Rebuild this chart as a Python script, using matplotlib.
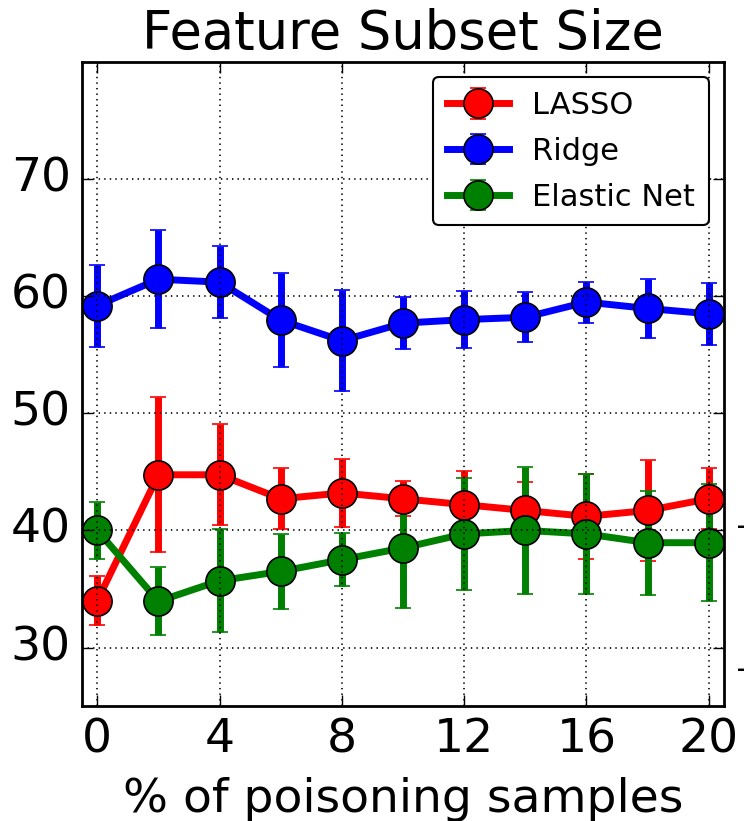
import numpy as np
import matplotlib
matplotlib.use('Agg')
import matplotlib.pyplot as plt

plt.style.use('classic')

x = [0, 2, 4, 6, 8, 10, 12, 14, 16, 18, 20]

lasso = [34.0, 44.75, 44.75, 42.7, 43.2, 42.7, 42.2, 41.7, 41.2, 41.7, 42.7]
lasso_err = [2.1, 6.6, 4.3, 2.6, 2.9, 1.5, 2.9, 2.4, 3.6, 4.35, 2.6]

ridge = [59.2, 61.45, 61.2, 57.95, 56.2, 57.7, 58.0, 58.2, 59.5, 58.95, 58.5]
ridge_err = [3.5, 4.2, 3.1, 4.0, 4.3, 2.2, 2.45, 2.15, 1.75, 2.5, 2.65]

enet = [40.0, 33.95, 35.7, 36.5, 37.5, 38.5, 39.7, 40.0, 39.7, 38.95, 38.95]
enet_err = [2.4, 2.9, 4.4, 3.2, 2.25, 5.1, 4.8, 5.45, 5.1, 4.45, 5.0]

series = [('LASSO', lasso, lasso_err, 'r'),
          ('Ridge', ridge, ridge_err, 'b'),
          ('Elastic Net', enet, enet_err, 'g')]

fig = plt.figure(figsize=(7.55, 8.21), dpi=100, facecolor='white')
ax = fig.add_axes([0.1086, 0.140, 0.8504, 0.7845])

for name, vals, err, c in series:
    ax.errorbar(x, vals, yerr=err, color=c, ecolor=c, lw=5, elinewidth=5,
                capsize=6, capthick=1.5, marker='o', markersize=21,
                markerfacecolor=c, markeredgecolor='k', markeredgewidth=1.2,
                label=name)

ax.set_xlim(-0.5, 20.5)
ax.set_ylim(25, 80)
ax.set_xticks([0, 4, 8, 12, 16, 20])
ax.set_yticks([30, 40, 50, 60, 70])
ax.tick_params(labelsize=34, length=8, width=1, pad=8)
ax.grid(True, color='k', linestyle=':', linewidth=1.2)
for s in ax.spines.values():
    s.set_linewidth(2)

ax.set_title('Feature Subset Size', fontsize=38, y=1.01)
ax.set_xlabel('% of poisoning samples', fontsize=34, labelpad=11)

leg = ax.legend(loc='upper right', numpoints=1, fontsize=22, fancybox=True,
                borderaxespad=0.5, handlelength=2.05, labelspacing=0.55,
                borderpad=0.45, handletextpad=0.75)
leg.get_frame().set_linewidth(1.5)

# stray tick marks from a neighbouring panel at the right edge
fig.text(0.982, 0.359, '-', fontsize=14, fontweight='bold', ha='center', va='center')
fig.text(0.982, 0.185, '-', fontsize=14, fontweight='bold', ha='center', va='center')

plt.savefig('out.png', dpi=100, facecolor='white')
